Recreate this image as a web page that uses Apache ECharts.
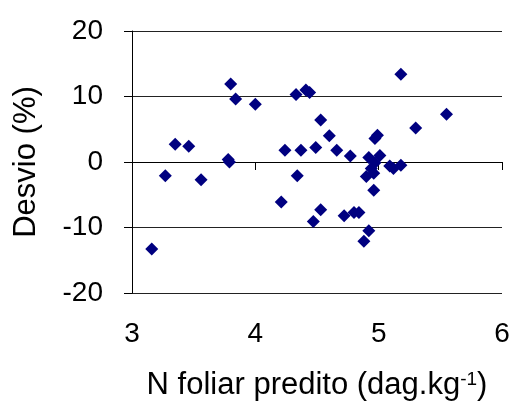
<!DOCTYPE html>
<html>
<head>
<meta charset="utf-8">
<script src="https://cdn.jsdelivr.net/npm/echarts@6/dist/echarts.min.js"></script>
<style>
html,body{margin:0;padding:0;background:#fff;}
#c{width:512px;height:403px;}
</style>
</head>
<body>
<div id="c"></div>
<script>
// N foliar predito (dag.kg-1)
const xValues = [3.16, 3.27, 3.35, 3.46, 3.56, 3.78, 3.79, 3.80, 3.84, 4.00,
  4.21, 4.24, 4.34, 4.33, 4.37, 4.41, 4.44, 4.49, 4.53, 4.60,
  4.66, 4.77, 4.53, 4.47, 4.72, 4.80, 4.84, 4.88, 4.92, 4.90,
  4.96, 4.96, 4.92, 4.97, 4.94, 4.97, 4.99, 5.01, 5.09, 5.12,
  5.18, 5.18, 5.30, 5.55];
// Desvio (%)
const yValues = [-13.3, -2.1, 2.7, 2.4, -2.7, 0.4, 0.0, 11.9, 9.6, 8.8,
  -6.1, 1.8, -2.1, 10.3, 1.8, 11.0, 10.6, 2.2, 6.4, 4.0,
  1.8, 0.9, -7.3, -9.1, -8.2, -7.7, -7.7, -12.1, -10.5, -2.2,
  -1.7, -4.3, 0.7, -0.1, -1.0, 3.6, 4.1, 1.0, -0.6, -1.0,
  -0.5, 13.4, 5.2, 7.3];
const xTicks = [3, 4, 5, 6];
const yTicks = [-20, -10, 0, 10, 20];

const points = xValues.map((x, i) => [x, yValues[i]]);
const font = 'Liberation Sans, Arial, sans-serif';

const chart = echarts.init(document.getElementById('c'), null, {renderer: 'canvas'});
chart.setOption({
  animation: false,
  backgroundColor: '#fff',
  grid: {left: 132, right: 10, top: 31, bottom: 110, containLabel: false, outerBoundsMode: 'none'},
  xAxis: {
    type: 'value',
    min: xTicks[0], max: xTicks[xTicks.length - 1], interval: 1,
    name: 'N foliar predito (dag.kg{sup|-1})',
    nameLocation: 'middle',
    nameGap: 77,
    nameTextStyle: {
      color: '#000', fontFamily: font, fontSize: 31,
      rich: {sup: {fontSize: 19, fontFamily: font, color: '#000', verticalAlign: 'top'}}
    },
    axisLine: {show: true, lineStyle: {color: '#000', width: 1}},
    axisTick: {show: true, inside: false, length: 8, lineStyle: {color: '#000'}},
    axisLabel: {color: '#000', fontFamily: font, fontSize: 28, margin: 27},
    splitLine: {show: false}
  },
  yAxis: {
    type: 'value',
    min: yTicks[0], max: yTicks[yTicks.length - 1], interval: 10,
    name: 'Desvio (%)',
    nameLocation: 'middle',
    nameGap: 90,
    nameTextStyle: {color: '#000', fontFamily: font, fontSize: 31},
    axisLine: {show: true, lineStyle: {color: '#000', width: 1}},
    axisTick: {show: true, inside: false, length: 8, lineStyle: {color: '#000'}},
    axisLabel: {color: '#000', fontFamily: font, fontSize: 28, margin: 29},
    splitLine: {show: true, lineStyle: {color: '#222', width: 1}}
  },
  series: [{
    type: 'scatter',
    data: points,
    symbol: 'diamond',
    symbolSize: 13,
    itemStyle: {color: '#000080', opacity: 1}
  }]
});
</script>
</body>
</html>
